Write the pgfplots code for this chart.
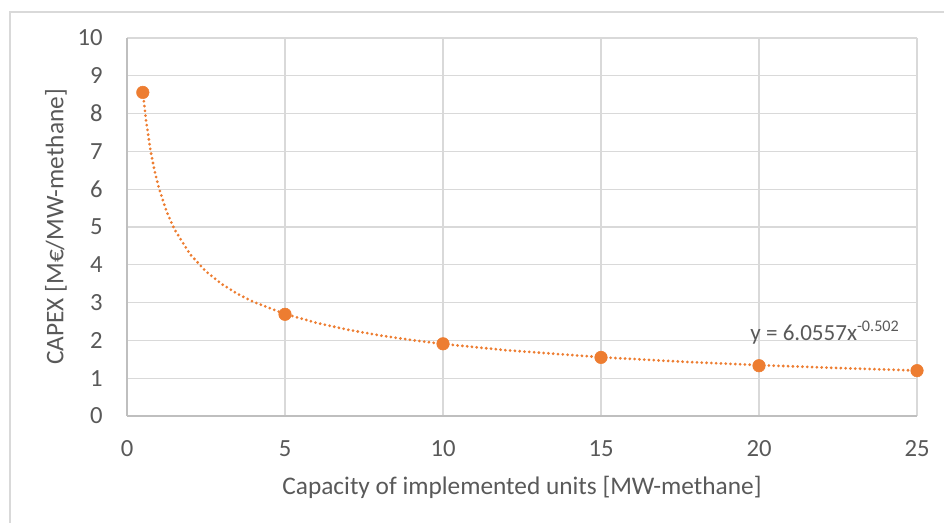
\documentclass[border=0pt]{standalone}
\usepackage{fontspec}
\setmainfont{Carlito}
\usepackage{pgfplots}
\pgfplotsset{compat=1.18}
\definecolor{txt}{HTML}{595959}
\definecolor{grd}{HTML}{D9D9D9}
\definecolor{axl}{HTML}{BFBFBF}
\definecolor{org}{HTML}{ED7D31}
\begin{document}
\begin{tikzpicture}
\useasboundingbox (0,0) rectangle (708pt,392.25pt);
\draw[grd, line width=1.2pt] (7.5pt,0) -- (7.5pt,383.25pt) -- (708pt,383.25pt);
\begin{axis}[
  at={(95.25pt,80.25pt)}, anchor=south west,
  scale only axis, width=592.5pt, height=283.5pt,
  xmin=0, xmax=25, ymin=0, ymax=10,
  xtick={0,5,...,25}, ytick={0,1,...,10},
  grid=major, major grid style={grd, line width=1pt},
  axis x line*=bottom, axis y line*=left,
  axis line style={axl, line width=1pt},
  major tick length=0pt,
  /pgf/number format/assume math mode=true,
  ticklabel style={font=\fontsize{18.5}{22}\selectfont, text=txt},
  yticklabel style={anchor=east, inner sep=0pt, xshift=-18pt},
  xticklabel style={anchor=center, inner sep=0pt, yshift=-24.75pt},
  xlabel={Capacity of implemented units [MW-methane]},
  ylabel={CAPEX [M€/MW-methane]},
  label style={font=\fontsize{19}{22}\selectfont, text=txt},
  xlabel style={at={(axis description cs:0.5,-0.188)}, anchor=center},
  ylabel style={at={(axis description cs:-0.0899,0.5)}, anchor=center},
]
% power trendline y = 6.0557 x^-0.502 (tabulated)
\addplot[org, line width=2.3pt, line cap=round, dash pattern=on 0pt off 3.6pt, no markers] coordinates {
 (0.5,8.577) (0.6,7.826) (0.75,6.997) (0.875,6.476) (1,6.056) (1.25,5.414) (1.5,4.941)
 (2,4.276) (2.5,3.823) (3,3.489) (3.5,3.229) (4,3.019) (5,2.700) (6,2.463) (7,2.280)
 (8,2.132) (9,2.010) (10,1.906) (12,1.740) (15,1.555) (17.5,1.439) (20,1.346) (22.5,1.269) (25,1.203)
};
\addplot[only marks, mark=*, mark size=4.7pt, mark options={fill=org, draw=org}] coordinates {
 (0.5,8.56) (5,2.69) (10,1.91) (15,1.55) (20,1.33) (25,1.20)
};
\node[anchor=base west, text=txt, font=\fontsize{17.3}{20}\selectfont, inner sep=0pt] at (axis cs:19.72,2.01) {y = 6.0557x\textsuperscript{-0.502}};
\end{axis}
\end{tikzpicture}
\end{document}
